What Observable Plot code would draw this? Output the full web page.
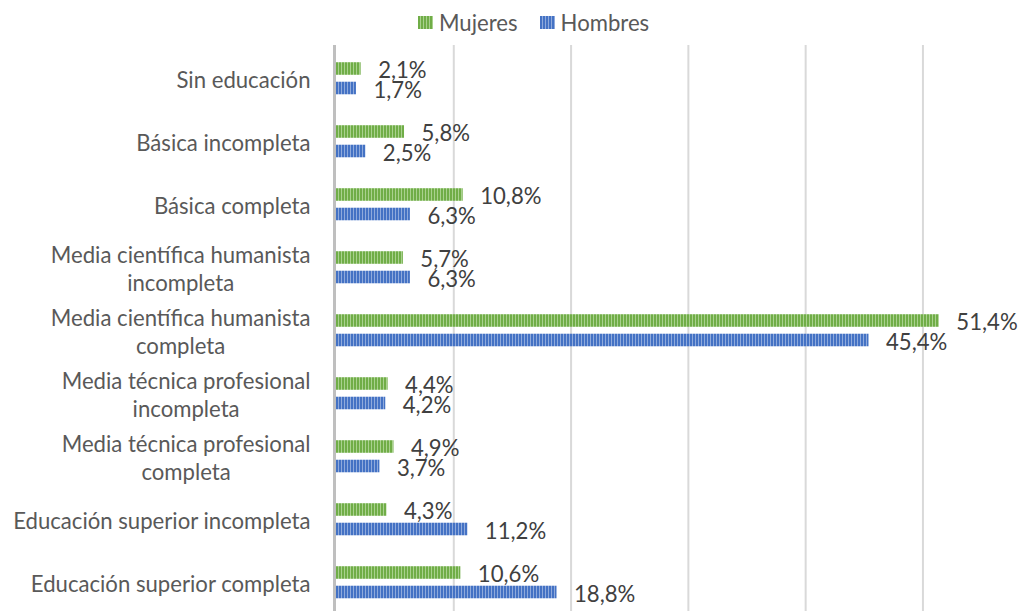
<!DOCTYPE html>
<html>
<head>
<meta charset="utf-8">
<script src="https://cdn.jsdelivr.net/npm/d3@7"></script>
<script src="https://cdn.jsdelivr.net/npm/@observablehq/plot@0.6"></script>
<style>
  html, body { margin: 0; padding: 0; background: #fff; overflow: hidden; width: 1028px; height: 611px; }
  #legend { position: relative; height: 45px; }
  #legend .items { position: absolute; left: 418px; top: 0; height: 45px; display: flex; align-items: center; color: #595959; white-space: nowrap; }
  #legend .item { display: flex; align-items: center; margin-right: 22px; }
  #legend .item svg { margin-right: 6px; display: block; }
  #chart svg { display: block; overflow: visible; }
</style>
</head>
<body>
<svg width="0" height="0" style="position:absolute">
  <defs>
    <pattern id="pm" patternUnits="userSpaceOnUse" width="3" height="3">
      <rect width="3" height="3" fill="#a9d18e"></rect>
      <rect width="2" height="3" fill="#70ad47"></rect>
    </pattern>
    <pattern id="ph" patternUnits="userSpaceOnUse" width="3" height="3">
      <rect width="3" height="3" fill="#8faadc"></rect>
      <rect width="2" height="3" fill="#4472c4"></rect>
    </pattern>
  </defs>
</svg>
<div id="legend"><div class="items"></div></div>
<div id="chart"></div>
<script>
// ---- data ----
const categories = [
  "Sin educación",
  "Básica incompleta",
  "Básica completa",
  "Media científica humanista\nincompleta",
  "Media científica humanista\ncompleta",
  "Media técnica profesional\nincompleta",
  "Media técnica profesional\ncompleta",
  "Educación superior incompleta",
  "Educación superior completa"
];
const mujeres = [2.1, 5.8, 10.8, 5.7, 51.4, 4.4, 4.9, 4.3, 10.6];
const hombres = [1.7, 2.5, 6.3, 6.3, 45.4, 4.2, 3.7, 11.2, 18.8];
const seriesNames = ["Mujeres", "Hombres"];
const xTicks = [10, 20, 30, 40, 50];

// ---- styling ----
const FONT = "Lato";
const ctx = document.createElement("canvas").getContext("2d");
ctx.font = `100px ${FONT}`;
const refW = ["Sin educación", "Media científica humanista", "Educación superior incompleta"]
  .reduce((s, t) => s + ctx.measureText(t).width, 0);
const fs = 100 * (132 + 262 + 298) / refW;
document.body.style.fontFamily = FONT;

const fmt = v => v.toFixed(1).replace(".", ",") + "%";

const rowsM = categories.map((c, i) => ({cat: c, v: mujeres[i]}));
const rowsH = categories.map((c, i) => ({cat: c, v: hombres[i]}));

// legend
const fills = {Mujeres: "url(#pm)", Hombres: "url(#ph)"};
const items = document.querySelector("#legend .items");
items.style.fontSize = fs + "px";
for (const s of seriesNames) {
  const it = document.createElement("div");
  it.className = "item";
  it.innerHTML = `<svg width="15" height="13"><rect width="15" height="13" fill="${fills[s]}"></rect></svg><span>${s}</span>`;
  items.appendChild(it);
}

const inset = (571 / 9 - 13) / 2;

const chart = Plot.plot({
  width: 1028,
  height: 571,
  marginTop: 0,
  marginBottom: 0,
  marginLeft: 336,
  marginRight: 0,
  style: {fontFamily: FONT, background: "transparent"},
  x: {domain: [0, 59], axis: null},
  y: {domain: categories, padding: 0, axis: null},
  marks: [
    Plot.ruleX(xTicks, {stroke: "#d9d9d9", strokeWidth: 2}),
    Plot.ruleX([0], {stroke: "#bfbfbf", strokeWidth: 3, dx: -2}),
    Plot.barX(rowsM, {x: "v", y: "cat", fill: fills.Mujeres, insetTop: inset, insetBottom: inset, dy: -10}),
    Plot.barX(rowsH, {x: "v", y: "cat", fill: fills.Hombres, insetTop: inset, insetBottom: inset, dy: 9.5}),
    Plot.text(rowsM, {x: "v", y: "cat", text: d => fmt(d.v), dx: 17, dy: -8.3, textAnchor: "start", fill: "#404040", fontSize: fs}),
    Plot.text(rowsH, {x: "v", y: "cat", text: d => fmt(d.v), dx: 17, dy: 11.6, textAnchor: "start", fill: "#404040", fontSize: fs}),
    Plot.text(categories, {x: 0, y: d => d, text: d => d, textAnchor: "end", dx: -26, fill: "#595959", fontSize: fs, lineHeight: 28.5 / fs})
  ]
});
document.getElementById("chart").appendChild(chart);

// center the lines of wrapped category labels within their right-aligned block
d3.select(chart).selectAll("text").each(function() {
  const tspans = this.querySelectorAll("tspan");
  if (tspans.length > 1) {
    let maxW = 0;
    tspans.forEach(t => { maxW = Math.max(maxW, t.getComputedTextLength()); });
    this.setAttribute("text-anchor", "middle");
    tspans.forEach(t => t.setAttribute("x", -maxW / 2));
  }
});
</script>
</body>
</html>
